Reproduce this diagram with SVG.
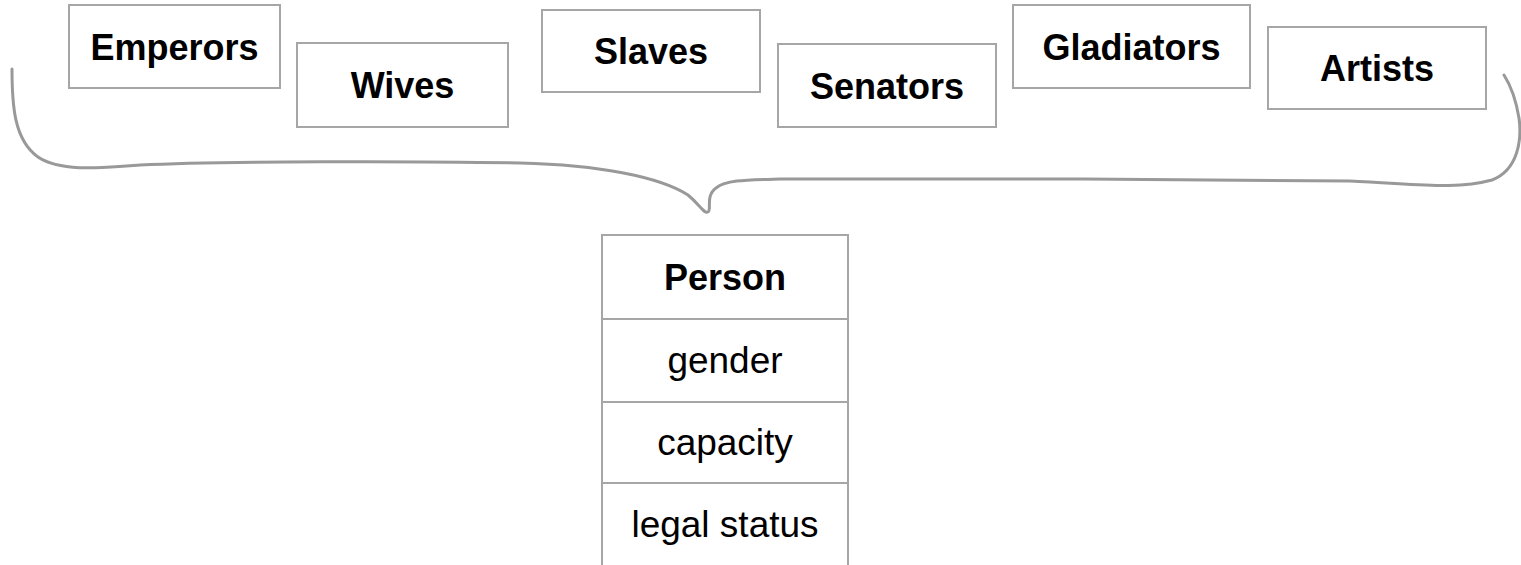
<svg xmlns="http://www.w3.org/2000/svg" width="1521" height="565" viewBox="0 0 1521 565">
<style>
.box{fill:#fff;stroke:#a6a6a6;stroke-width:2}
.t{font-family:"Liberation Sans",Arial,sans-serif;font-size:36px;font-weight:bold;fill:#000;text-anchor:middle}
.a{font-family:"Liberation Sans",Arial,sans-serif;font-size:37px;fill:#000;text-anchor:middle}
.brace{fill:none;stroke:#999;stroke-width:3;stroke-linecap:round;stroke-linejoin:round}
.ln{stroke:#a6a6a6;stroke-width:2;fill:none}
</style>
<rect width="1521" height="565" fill="#fff"/>
<g id="connectors">
<path class="brace" d="M 12,69 C 12,105 14,140 38,157 C 60,172 100,168 140,165 C 220,161 420,161 520,163 C 600,165 660,177 688,195 C 700,205 704,214 708,212 C 712,210 705,196 716,188 C 726,180 745,180 780,179 C 900,178 1200,179 1350,181 C 1420,184 1455,190 1492,180 C 1518,170 1522,140 1519,118 C 1516,100 1511,86 1504,75"/>
</g>
<g id="emperors"><rect class="box" x="69" y="5" width="211" height="83"/><text class="t" x="174.5" y="59.5">Emperors</text></g>
<g id="wives"><rect class="box" x="297" y="43" width="211" height="84"/><text class="t" x="402.5" y="98">Wives</text></g>
<g id="slaves"><rect class="box" x="542" y="10" width="218" height="82"/><text class="t" x="651" y="64">Slaves</text></g>
<g id="senators"><rect class="box" x="778" y="44" width="218" height="83"/><text class="t" x="887" y="98.5">Senators</text></g>
<g id="gladiators"><rect class="box" x="1013" y="5" width="237" height="83"/><text class="t" x="1131.5" y="59.5">Gladiators</text></g>
<g id="artists"><rect class="box" x="1268" y="27" width="218" height="82"/><text class="t" x="1377" y="81">Artists</text></g>
<g id="person">
<path class="ln" d="M 602,566 V 235 H 848 V 566"/>
<line class="ln" x1="602" y1="319" x2="848" y2="319"/>
<line class="ln" x1="602" y1="402" x2="848" y2="402"/>
<line class="ln" x1="602" y1="483" x2="848" y2="483"/>
<text class="t" x="725" y="290">Person</text>
<text class="a" x="725" y="373">gender</text>
<text class="a" x="725" y="455">capacity</text>
<text class="a" x="725" y="537">legal status</text>
</g>
</svg>
